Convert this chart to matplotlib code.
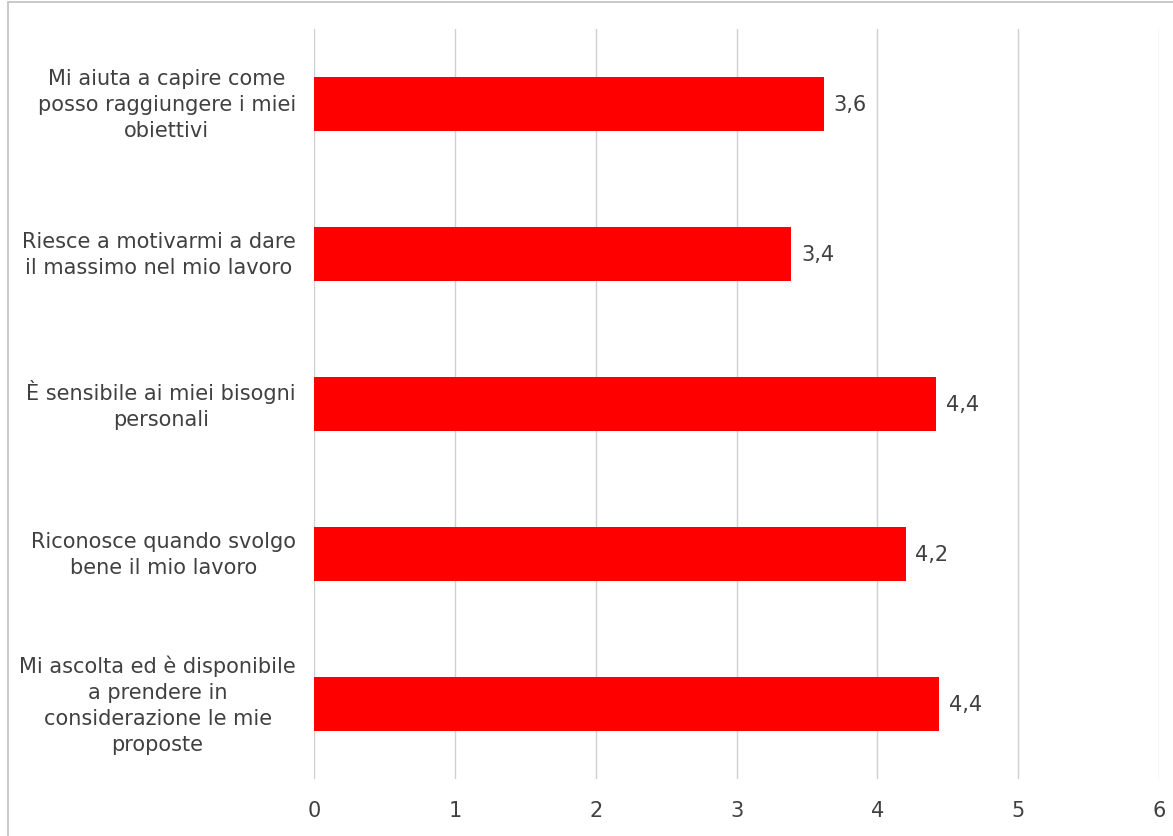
import matplotlib
import matplotlib.pyplot as plt
from matplotlib.patches import Rectangle

matplotlib.use("Agg")

# data (top to bottom)
categories = [
    "Mi aiuta a capire come\nposso raggiungere i miei\nobiettivi",
    "Riesce a motivarmi a dare\nil massimo nel mio lavoro",
    "È sensibile ai miei bisogni\npersonali",
    "Riconosce quando svolgo\nbene il mio lavoro",
    "Mi ascolta ed è disponibile\na prendere in\nconsiderazione le mie\nproposte",
]
values = [3.62, 3.39, 4.42, 4.20, 4.44]
value_labels = ["3,6", "3,4", "4,4", "4,2", "4,4"]
x_ticks = [0, 1, 2, 3, 4, 5, 6]

W, H = 1173, 837
TEXT = "#404040"
GRID = "#d0d0d0"
FS = 15

plt.rcParams["font.family"] = ["DejaVu Sans"]

fig = plt.figure(figsize=(W / 100, H / 100), dpi=100)
ax = fig.add_axes([314 / W, 1 - 780 / H, (1159 - 314) / W, (780 - 30) / H])

pos = list(range(len(categories)))
ax.barh(pos, values, height=0.36, color="#ff0000", zorder=3)
for p, v, lab in zip(pos, values, value_labels):
    ax.text(v + 0.07, p, lab, va="center", ha="left", fontsize=FS, color=TEXT)

ax.set_xlim(0, 6)
ax.set_ylim(len(categories) - 0.5, -0.5)
ax.set_xticks(x_ticks)
ax.set_xticklabels([str(t) for t in x_ticks], fontsize=FS, color=TEXT)
ax.tick_params(axis="x", length=0, pad=15)
ax.set_yticks([])
ax.grid(axis="x", color=GRID, linewidth=1, zorder=0)
for s in ax.spines.values():
    s.set_visible(False)

# category labels: block right-aligned, lines centred inside it
for p, cat in zip(pos, categories):
    ax.text(-18 / 140.8, p, cat, ha="right", va="center", multialignment="center",
            fontsize=FS, color=TEXT, linespacing=1.38)

# chart frame, cut off at the right and bottom of the picture
fig.patches.append(Rectangle((8 / W, -0.1), 1.2, 1 - 3 / H + 0.1, transform=fig.transFigure,
                             fill=False, edgecolor="#c0c0c0", linewidth=1.2))

fig.savefig("out.png", dpi=100)
